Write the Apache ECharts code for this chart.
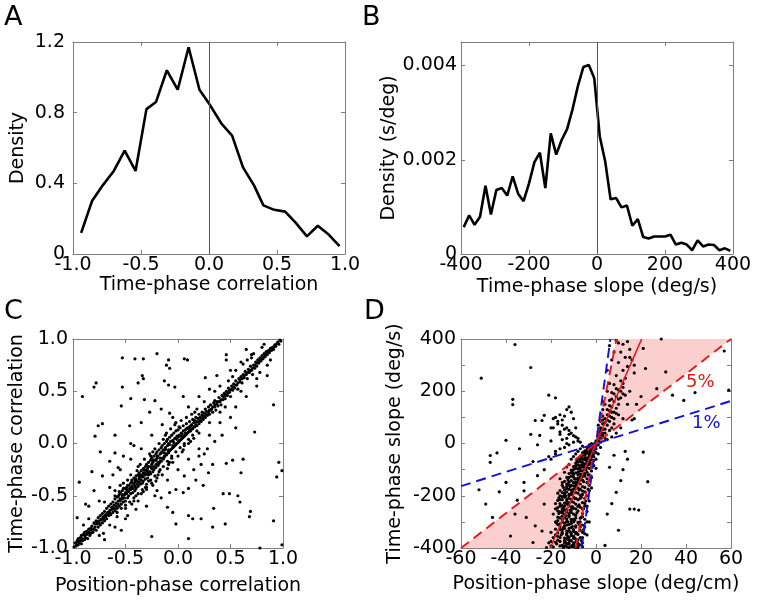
<!DOCTYPE html>
<html><head><meta charset="utf-8">
<script src="https://cdn.jsdelivr.net/npm/echarts@6/dist/echarts.min.js"></script>
<style>html,body{margin:0;padding:0;background:#fff}#c{width:757px;height:604px}</style>
</head><body><div id="c"></div>
<script>
// ---------- Panel A: time-phase correlation density ----------
const aX = [-0.94,-0.86,-0.78,-0.70,-0.62,-0.54,-0.46,-0.39,-0.31,-0.23,-0.15,-0.07,0.01,0.09,0.17,0.25,0.33,0.40,0.48,0.56,0.64,0.72,0.80,0.88,0.96];
const aY = [0.12,0.30,0.39,0.47,0.585,0.47,0.82,0.86,1.04,0.93,1.17,0.93,0.84,0.74,0.67,0.49,0.39,0.275,0.25,0.24,0.175,0.10,0.16,0.11,0.045];
const aXTicks = [-1,-0.5,0,0.5,1];
const aYTicks = [0,0.4,0.8,1.2];

// ---------- Panel B: time-phase slope density ----------
const bX = [-392,-376,-360,-344,-328,-312,-296,-280,-264,-248,-232,-216,-200,-184,-168,-152,-136,-120,-104,-88,-72,-56,-40,-24,-8,8,24,40,56,72,88,104,120,136,152,168,184,200,216,232,248,264,280,296,312,328,344,360,376,392];
const bY = [0.00057,0.00082,0.00062,0.00079,0.00145,0.00084,0.00136,0.00140,0.00124,0.00165,0.00128,0.00112,0.00150,0.00195,0.00215,0.00140,0.00256,0.00211,0.00242,0.00265,0.00307,0.00357,0.00397,0.00401,0.00373,0.00250,0.00197,0.00116,0.00119,0.00099,0.00103,0.00060,0.00074,0.00036,0.00033,0.00037,0.00037,0.00037,0.00041,0.00020,0.00024,0.00020,0.00008,0.00029,0.00016,0.00020,0.00019,0.00008,0.00012,0.00007];

// ---------- Panel C: position-phase vs time-phase correlation ----------
const cBand = [
[-0.99,-0.99],[-0.98,-0.95],[-0.97,-0.98],[-0.96,-0.93],[-0.95,-0.97],[-0.95,-0.91],[-0.94,-0.95],[-0.93,-0.90],[-0.92,-0.96],[-0.92,-0.88],[-0.91,-0.93],[-0.90,-0.87],[-0.89,-0.92],[-0.89,-0.85],[-0.88,-0.90],[-0.87,-0.84],[-0.86,-0.91],[-0.86,-0.86],[-0.85,-0.82],[-0.84,-0.88],[-0.83,-0.81],[-0.83,-0.86],[-0.82,-0.79],[-0.81,-0.85],[-0.80,-0.76],[-0.80,-0.82],[-0.79,-0.80],[-0.78,-0.74],[-0.78,-0.83],[-0.77,-0.77],[-0.76,-0.71],[-0.76,-0.80],[-0.75,-0.74],[-0.74,-0.69],[-0.74,-0.78],[-0.73,-0.72],[-0.72,-0.67],[-0.72,-0.76],[-0.71,-0.70],[-0.70,-0.65],[-0.70,-0.74],[-0.69,-0.68],[-0.68,-0.62],[-0.68,-0.72],[-0.67,-0.66],[-0.66,-0.60],[-0.66,-0.69],[-0.65,-0.64],[-0.64,-0.58],[-0.64,-0.68],[-0.63,-0.61],[-0.62,-0.56],[-0.62,-0.66],[-0.61,-0.59],[-0.60,-0.53],[-0.60,-0.64],[-0.59,-0.57],[-0.58,-0.51],[-0.58,-0.62],[-0.57,-0.55],[-0.56,-0.49],[-0.56,-0.60],[-0.55,-0.53],[-0.55,-0.47],[-0.54,-0.58],[-0.53,-0.51],[-0.53,-0.45],[-0.52,-0.56],[-0.51,-0.49],[-0.51,-0.43],[-0.50,-0.55],[-0.50,-0.47],[-0.49,-0.42],[-0.48,-0.52],[-0.48,-0.45],[-0.47,-0.40],[-0.47,-0.50],[-0.46,-0.43],[-0.45,-0.38],[-0.45,-0.48],[-0.44,-0.41],[-0.44,-0.35],[-0.43,-0.47],[-0.42,-0.39],[-0.42,-0.33],[-0.41,-0.45],[-0.41,-0.37],[-0.40,-0.31],[-0.40,-0.43],[-0.39,-0.36],[-0.38,-0.30],[-0.38,-0.41],[-0.37,-0.34],[-0.37,-0.28],[-0.36,-0.39],[-0.35,-0.32],[-0.35,-0.26],[-0.34,-0.38],[-0.34,-0.30],[-0.33,-0.24],[-0.33,-0.36],[-0.32,-0.28],[-0.31,-0.22],[-0.31,-0.34],[-0.30,-0.26],[-0.30,-0.20],[-0.29,-0.33],[-0.29,-0.24],[-0.28,-0.18],[-0.28,-0.30],[-0.27,-0.22],[-0.26,-0.16],[-0.26,-0.29],[-0.25,-0.20],[-0.25,-0.14],[-0.24,-0.27],[-0.24,-0.18],[-0.23,-0.12],[-0.23,-0.25],[-0.22,-0.16],[-0.21,-0.10],[-0.21,-0.23],[-0.20,-0.14],[-0.20,-0.08],[-0.19,-0.21],[-0.19,-0.12],[-0.18,-0.06],[-0.18,-0.19],[-0.17,-0.10],[-0.16,-0.04],[-0.16,-0.17],[-0.15,-0.08],[-0.15,-0.02],[-0.14,-0.15],[-0.14,-0.06],[-0.13,0.00],[-0.13,-0.13],[-0.12,-0.04],[-0.11,0.02],[-0.11,-0.11],[-0.10,-0.02],[-0.10,0.04],[-0.09,-0.09],[-0.09,0.00],[-0.08,0.06],[-0.08,-0.07],[-0.07,0.02],[-0.06,0.08],[-0.06,-0.05],[-0.05,0.03],[-0.04,0.10],[-0.04,-0.03],[-0.03,0.05],[-0.02,0.12],[-0.02,-0.01],[-0.01,0.07],[0.00,0.13],[0.00,0.01],[0.01,0.08],[0.02,0.15],[0.02,0.03],[0.03,0.10],[0.04,0.05],[0.05,0.12],[0.05,0.17],[0.06,0.07],[0.07,0.13],[0.08,0.19],[0.08,0.09],[0.09,0.15],[0.10,0.11],[0.11,0.21],[0.11,0.16],[0.12,0.12],[0.13,0.18],[0.14,0.23],[0.14,0.14],[0.15,0.20],[0.16,0.16],[0.17,0.25],[0.17,0.21],[0.18,0.17],[0.19,0.24],[0.20,0.28],[0.20,0.19],[0.21,0.25],[0.22,0.21],[0.23,0.30],[0.23,0.27],[0.24,0.23],[0.25,0.29],[0.26,0.33],[0.26,0.25],[0.27,0.31],[0.28,0.27],[0.29,0.35],[0.30,0.32],[0.30,0.28],[0.31,0.37],[0.32,0.33],[0.33,0.30],[0.34,0.39],[0.35,0.35],[0.35,0.41],[0.36,0.32],[0.37,0.40],[0.38,0.36],[0.39,0.44],[0.40,0.40],[0.41,0.37],[0.42,0.46],[0.43,0.42],[0.44,0.48],[0.45,0.43],[0.46,0.50],[0.47,0.46],[0.48,0.53],[0.49,0.49],[0.50,0.45],[0.51,0.55],[0.52,0.51],[0.53,0.57],[0.54,0.53],[0.55,0.60],[0.56,0.56],[0.57,0.52],[0.58,0.62],[0.59,0.59],[0.60,0.64],[0.61,0.58],[0.62,0.66],[0.63,0.63],[0.64,0.69],[0.65,0.66],[0.66,0.62],[0.67,0.71],[0.68,0.68],[0.69,0.74],[0.70,0.70],[0.71,0.66],[0.72,0.75],[0.73,0.72],[0.74,0.78],[0.75,0.74],[0.76,0.80],[0.77,0.77],[0.78,0.82],[0.79,0.79],[0.80,0.84],[0.81,0.81],[0.82,0.86],[0.83,0.83],[0.84,0.88],[0.85,0.85],[0.86,0.89],[0.87,0.87],[0.88,0.91],[0.89,0.89],[0.90,0.92],[0.91,0.90],[0.92,0.94],[0.93,0.93],[0.95,0.96],[0.96,0.95],[0.98,0.98],
[-0.55,-0.40],[-0.50,-0.62],[-0.45,-0.30],[-0.42,-0.55],[-0.38,-0.22],[-0.35,-0.48],[-0.32,-0.15],[-0.30,-0.44],[-0.27,-0.10],[-0.25,-0.38],[-0.22,-0.05],[-0.20,-0.33],[-0.18,0.00],[-0.15,-0.30],[-0.12,0.08],[-0.10,-0.24],[-0.07,0.14],[-0.05,-0.18],[-0.03,0.18],[0.00,-0.12],[0.03,0.22],[0.05,-0.06],[0.08,0.25],[0.10,0.00],[0.13,0.28],[0.15,0.05],[0.18,0.33],[0.20,0.10],[-0.60,-0.45],[-0.65,-0.78],[-0.70,-0.56],[-0.75,-0.88],[-0.48,-0.35],[-0.40,-0.50],[-0.28,-0.36],[-0.17,-0.25],[-0.06,-0.14],[0.06,-0.02],[0.25,0.40],[0.30,0.20],[0.40,0.55],[0.45,0.35],[0.55,0.70],[0.60,0.50],[0.70,0.82],[0.75,0.62],[0.80,0.92],[0.85,0.75],[0.62,0.76],[0.66,0.80],[0.72,0.86],[0.52,0.64],[0.48,0.60],[0.35,0.50],[-0.36,-0.20],[-0.33,-0.46],[-0.26,-0.12],[-0.21,-0.36],[-0.14,0.04],[-0.09,-0.20],[-0.02,0.20],[0.04,-0.08],[-0.58,-0.70],[-0.52,-0.38],[-0.44,-0.58],[-0.39,-0.26],[-0.31,-0.42],[-0.24,-0.08],[-0.19,-0.30],[-0.11,0.10],[-0.08,-0.18],[0.01,0.16],[0.12,0.02],[0.16,0.30]
];
const cMid = [
[-0.97,-0.96],[-0.95,-0.94],[-0.93,-0.93],[-0.91,-0.91],[-0.89,-0.88],[-0.87,-0.87],[-0.85,-0.85],[-0.83,-0.83],[-0.81,-0.82],[-0.79,-0.77],[-0.77,-0.75],[-0.75,-0.76],[-0.73,-0.73],[-0.71,-0.72],[-0.69,-0.70],[-0.67,-0.68],[-0.65,-0.66],[-0.63,-0.63],[-0.61,-0.62],[-0.59,-0.60],[-0.57,-0.58],[-0.55,-0.55],[-0.53,-0.53],[-0.51,-0.52],[-0.49,-0.48],[-0.47,-0.46],[-0.45,-0.44],[-0.43,-0.43],[-0.41,-0.41],[-0.39,-0.39],[-0.37,-0.37],[-0.35,-0.35],[-0.33,-0.32],[-0.31,-0.30],[-0.29,-0.29],[-0.27,-0.27],[-0.25,-0.24],[-0.23,-0.22],[-0.21,-0.20],[-0.19,-0.18],[-0.17,-0.17],[-0.15,-0.14],[-0.13,-0.12],[-0.11,-0.10],[-0.09,-0.08],[-0.07,-0.06],[-0.05,-0.04],[-0.03,-0.02],[-0.01,0.00],[0.01,0.02],[0.03,0.04],[0.05,0.06],[0.07,0.08],[0.09,0.10],[0.11,0.12],[0.13,0.14],[0.15,0.16],[0.17,0.18],[0.19,0.21],[0.21,0.22],[0.23,0.24],[0.25,0.26],[0.27,0.28],[0.29,0.30],[0.31,0.32],[0.33,0.35],[0.35,0.37],[0.37,0.38],[0.39,0.40],[0.41,0.42],[0.43,0.45],[0.45,0.46],[0.47,0.48],[0.49,0.51],[0.51,0.52],[0.53,0.54],[0.55,0.56],[0.57,0.58],[0.59,0.61],[0.61,0.62],[0.63,0.65],[0.65,0.67],[0.67,0.68],[0.69,0.70],[0.71,0.72],[0.73,0.75],[0.75,0.77],[0.77,0.79],[0.79,0.81],[0.81,0.83],[0.83,0.85],[0.85,0.87],[0.87,0.89],[0.89,0.91],[0.91,0.92],[0.93,0.95],[0.95,0.97],[0.97,0.99],
[-0.60,-0.50],[-0.58,-0.66],[-0.56,-0.46],[-0.54,-0.62],[-0.52,-0.43],[-0.50,-0.59],[-0.48,-0.40],[-0.46,-0.56],[-0.44,-0.37],[-0.42,-0.52],[-0.40,-0.34],[-0.38,-0.48],[-0.36,-0.30],[-0.34,-0.44],[-0.32,-0.25],[-0.30,-0.39],[-0.28,-0.22],[-0.26,-0.35],[-0.24,-0.16],[-0.22,-0.31],[-0.20,-0.12],[-0.18,-0.27],[-0.16,-0.09],[-0.14,-0.22],[-0.12,-0.06],[-0.10,-0.17],[-0.08,-0.01],[-0.06,-0.12],[-0.04,0.01],[-0.02,-0.08],[0.00,0.06],[0.02,-0.04],[0.04,0.09],[0.06,0.00],[0.08,0.14],[0.10,0.04],[0.12,0.17],[0.14,0.08],[0.16,0.22],[0.18,0.12],[-0.57,-0.51],[-0.53,-0.49],[-0.49,-0.44],[-0.45,-0.42],[-0.41,-0.35],[-0.37,-0.32],[-0.33,-0.28],[-0.29,-0.27],[-0.25,-0.23],[-0.21,-0.16],[-0.17,-0.14],[-0.13,-0.09],[-0.09,-0.06],[-0.05,-0.02],[-0.01,0.04],[0.03,0.07],[0.07,0.10],[0.11,0.14]
];
const cOut = [
[-0.20,0.86],[-0.53,0.82],[-0.41,0.81],[-0.33,0.81],[-0.09,0.80],[-0.11,0.75],[-0.08,0.72],[0.06,0.81],[0.09,0.80],[0.46,0.85],[0.46,0.80],[-0.78,0.58],[-0.80,0.54],[-0.91,0.45],[-0.34,0.65],[-0.33,0.62],[-0.38,0.58],[-0.13,0.60],[-0.09,0.56],[-0.03,0.54],[-0.53,0.54],[-0.45,0.43],[-0.32,0.42],[-0.22,0.41],[0.05,0.45],[0.26,0.63],[0.37,0.65],[-0.54,0.36],[-0.27,0.30],[-0.16,0.33],[-0.08,0.29],[-0.72,0.19],[-0.76,0.17],[-0.79,0.07],[-0.74,-0.08],[-0.60,0.08],[-0.46,0.17],[-0.35,0.20],[-0.45,0.00],[-0.60,-0.09],[-0.65,-0.17],[-0.82,-0.27],[-0.72,-0.31],[-0.94,-0.37],[-0.85,-0.60],[-0.96,-0.71],[-0.57,-0.23],
[0.91,0.37],[0.96,-0.18],[0.99,-0.26],[0.94,-0.32],[0.73,0.11],[0.62,-0.15],[0.60,-0.28],[0.52,-0.16],[0.46,-0.19],[0.33,-0.20],[0.22,-0.20],[0.17,-0.35],[0.24,-0.40],[0.29,-0.28],[0.06,-0.31],[0.10,-0.43],[-0.02,-0.44],[0.05,-0.47],[0.43,-0.48],[0.49,-0.48],[0.57,-0.50],[0.59,-0.56],[0.34,-0.62],[0.69,-0.65],[0.68,-0.70],[0.91,-0.74],[0.45,-0.77],[0.22,-0.72],[0.14,-0.72],[-0.02,-0.77],[0.10,-0.69],[-0.10,-0.61],[-0.05,-0.66],[-0.25,-0.89],[0.10,-0.91],[0.78,-1.00],[0.99,-0.97],[0.33,-0.80],[-0.22,-0.50],[-0.16,-0.52],[-0.08,-0.47],[-0.30,-0.42],[-0.24,-0.40],[-0.40,-0.63],[-0.48,-0.69],[-0.54,-0.83],[-0.71,-0.86],
[0.20,-0.12],[0.28,-0.05],[0.35,0.02],[0.42,0.08],[0.40,0.20],[0.50,0.25],[0.55,0.35],[0.65,0.45],[0.75,0.55],[0.85,0.65],[0.70,0.85],[0.60,0.78],[0.50,0.70],[0.30,0.52],[0.20,0.45],[0.10,0.35],[-0.05,0.25],[-0.15,0.18],[-0.25,0.08],[-0.35,-0.05],[-0.45,-0.15],[-0.55,-0.25],[-0.65,-0.42],[-0.75,-0.55],[-0.85,-0.72],[-0.30,-0.60],[-0.20,-0.45],[-0.10,-0.35],[0.00,-0.25],[0.10,-0.15],[0.20,-0.05],[0.30,0.08],[0.40,0.30],[-0.60,-0.80],[-0.70,-0.92],[-0.50,-0.72],[-0.38,-0.55],[0.15,-0.25],[0.25,-0.10],[-0.42,-0.02],[-0.62,-0.30],[-0.52,-0.12],[-0.80,-0.45],[-0.88,-0.58],[-0.90,-0.78],[0.55,0.15],[0.78,0.68],[0.88,0.80],[0.82,0.95],[0.65,0.90]
];

// ---------- Panel D: position-phase slope vs time-phase slope ----------
const dOut = [
[-51,250],[-36,379],[-29,291],[-37,169],[-37,149],[-40,12],[-47,-46],[-47,-72],[-44,-36],[-52,-177],[-49,-232],[-46,-283],[-40,-149],[-32,-149],[-27,88],[-25,31],[-28,-69],[-26,-123],[-32,-181],[-35,-217],[-36,-270],[-31,-283],[-27,-315],[-38,-354],[-24,-335],[-28,-379],[-23,-232],[-43,-185],[-21,185],[-18,175],[-13,130],[-15,90],[-17,75],[-19,95],[-20,60],[-16,110],[-14,105],[-12,140],[-11,120],[-16,45],[-13,60],[-10,95],[-18,-30],[-23,-100],[-26,-5],[-29,35],[-20,10],[-34,-20],[-20,-60],[-12,35],[-9,60],[-8,20],[-23,108],[-24,88],[-18,100],[-17,85],[-15,70],[-14,55],[-12,50],[-11,40],[-10,30],[-9,25],[-13,20],[-15,15],[-16,35],[-19,60],[-8,10],[-7,5],[-12,-5],[-14,-15],[-16,-20],[-18,-40],[-21,-50],[-13,0],[-10,5],
[22,287],[31,274],[27,210],[34,185],[39,165],[44,195],[57,354],[59,204],[29,400],[21,364],[21,-33],[23,-146],[15,-251],[17,-251],[19,-255],[10,-332],[11,-142],[6,-91],[9,-187],[17,95],[14,-60],[12,-100],[8,-45],[7,-230],[5,-270],[4,-390],[13,-30],[20,180],[17,270],[15,330],[14,150],[12,230]
];
const dUpper = [
[0,10],[1,20],[2,35],[1,45],[3,30],[2,60],[4,55],[3,75],[5,70],[4,95],[6,85],[5,110],[7,100],[6,125],[8,120],[3,105],[2,85],[7,140],[9,135],[8,160],[10,150],[6,165],[9,180],[11,175],[7,195],[10,205],[12,215],[8,225],[11,240],[13,250],[9,260],[12,280],[14,295],[10,310],[13,330],[11,350],[15,360],[12,380],[9,395],[14,390],[6,230],[5,200],[4,150],[3,130],[10,110],[12,95],[8,75],[6,50],[4,20],[2,5],[1,70],[3,160],[5,280],[7,320],[8,350],[6,375],[10,385],[16,320],[17,300],[18,150],[15,200],[13,185],[16,90],[11,60],[9,40],[7,25],[5,15],
[2,45],[3,55],[4,40],[5,90],[6,105],[7,60],[8,95],[9,115],[4,80],[5,130],[7,170],[8,190],[9,210],[10,170],[11,200],[12,190],[6,145],[7,120],[3,90],[1,30]
];
const dCore = [
[-1,-12],[-3,-20],[-2,-30],[-4,-15],[-5,-28],[-1,-38],[-3,-42],[-6,-35],[-2,-50],[-4,-55],[-7,-48],[-5,-62],[-3,-68],[-8,-58],[-6,-72],[-4,-80],[-9,-75],[-7,-85],[-5,-92],[-10,-88],[-3,-95],[-8,-98],[-6,-105],[-11,-102],[-4,-110],[-9,-112],[-7,-118],[-12,-115],[-5,-125],[-10,-128],[-8,-132],[-13,-130],[-6,-140],[-11,-142],[-9,-148],[-14,-145],[-4,-150],[-7,-155],[-12,-158],[-10,-162],[-15,-160],[-5,-168],[-8,-170],[-13,-172],[-11,-178],[-6,-182],[-16,-180],[-9,-188],[-14,-190],[-12,-195],[-7,-198],[-10,-205],[-15,-203],[-5,-210],[-13,-212],[-8,-215],[-17,-218],[-11,-222],[-6,-226],[-14,-228],[-9,-232],[-12,-238],[-16,-240],[-7,-244],[-10,-248],[-18,-250],[-13,-252],[-8,-258],[-15,-260],[-11,-264],[-6,-268],[-14,-270],[-9,-275],[-12,-280],[-17,-282],[-7,-286],[-10,-290],[-15,-292],[-13,-298],[-8,-302],[-11,-306],[-16,-308],[-6,-312],[-14,-316],[-9,-320],[-12,-325],[-18,-328],[-7,-332],[-10,-336],[-15,-340],[-13,-344],[-8,-348],[-11,-352],[-17,-355],[-6,-360],[-14,-362],[-9,-366],[-12,-370],[-16,-375],[-10,-380],[-13,-384],[-7,-388],[-15,-390],[-11,-394],[-19,-396],[-8,-398],
[-2.5,-25],[-4.5,-38],[-1.5,-45],[-3.5,-58],[-6.5,-52],[-2.5,-75],[-5.5,-82],[-8.5,-66],[-4.5,-100],[-7.5,-92],[-10.5,-110],[-3.5,-120],[-6.5,-128],[-9.5,-136],[-12.5,-140],[-5.5,-146],[-8.5,-152],[-11.5,-165],[-14.5,-168],[-3.5,-175],[-7.5,-178],[-10.5,-185],[-13.5,-200],[-6.5,-205],[-9.5,-210],[-16.5,-208],[-4.5,-220],[-12.5,-225],[-7.5,-235],[-10.5,-242],[-14.5,-246],[-5.5,-250],[-11.5,-256],[-8.5,-265],[-16.5,-268],[-13.5,-276],[-6.5,-282],[-9.5,-294],[-12.5,-300],[-17.5,-304],[-7.5,-310],[-10.5,-318],[-14.5,-322],[-5.5,-330],[-11.5,-338],[-8.5,-344],[-15.5,-350],[-12.5,-356],[-9.5,-362],[-6.5,-372],[-13.5,-378],[-17.5,-384],[-10.5,-390],[-8.5,-376],[-14.5,-398],[-20,-392],[-21,-380],[-19,-360],[-20,-340],[-18,-300],[-19,-270],[-17,-245],[-18,-230],[-16,-200],[-17,-190],[-15,-150],[-16,-135],[-14,-110],[-13,-90],[-12,-80],[-11,-60],[-10,-50],[-9,-40],[-8,-30],[-7,-20],[-6,-10],
[-2,-8],[-3,-5],[-1,-25],[-2,-18],[-4,-35],[-3,-48],[-5,-45],[-4,-65],[-6,-60],[-5,-78],[-7,-70],[-6,-90],[-8,-82],[-7,-105],[-9,-95],[-8,-120],[-10,-118],[-9,-135],[-11,-125],[-10,-150],[-12,-148],[-11,-160],[-13,-155],[-12,-175],[-14,-178],[-13,-185],[-15,-188],[-11,-195],[-14,-205],[-12,-210],[-16,-215],[-13,-232],[-15,-238],[-11,-245],[-14,-255],[-16,-262],[-12,-268],[-15,-278],[-13,-288],[-17,-295],[-11,-298],[-14,-305],[-16,-318],[-12,-335],[-15,-330],[-17,-342],[-13,-350],[-16,-360],[-14,-372],[-12,-385],[-18,-378],[-16,-392],[-9,-345],[-10,-362],[-8,-382],[-7,-360],[-6,-340],[-7,-300],[-5,-290],[-6,-250],[-5,-230],[-4,-200],[-5,-185],[-3,-160],[-4,-135],[-2,-130],[-3,-140],[-2,-105],[-1,-85],[0,-60],[1,-40],[0,-20],[1,-5],[2,-15],[-1,-65],[0,-95],[-2,-170],[-3,-220],[-4,-260],[-5,-320],[-4,-350],[-6,-395],[-3,-300],
[-9,-210],[-11,-215],[-10,-225],[-12,-230],[-8,-240],[-9,-250],[-11,-255],[-10,-270],[-12,-275],[-9,-285],[-11,-290],[-10,-300],[-12,-310],[-9,-315],[-11,-322],[-10,-330],[-13,-335],[-9,-340],[-11,-345],[-10,-355],[-12,-360],[-8,-368],[-11,-372],[-9,-378],[-12,-380],[-10,-388],[-13,-395],[-8,-392],[-7,-210],[-8,-190],[-9,-170],[-8,-150],[-7,-140],[-6,-125],[-8,-110],[-7,-95],[-5,-100],[-6,-80],[-4,-70],[-5,-55],[-3,-35],[-2,-40],[-1,-20],[0,-10],[-1,-2],[0,5],[1,12],[2,22],[1,30],[2,50],[3,40],[0,-35],[-1,-50],[-2,-62],[-3,-80],[-4,-90],[-5,-115],[-6,-118],[-7,-130],[-8,-140],[-9,-160],[-10,-175],[-11,-190],[-12,-200],[-13,-220],[-14,-240],[-15,-250],[-13,-262],[-14,-285],[-15,-300],[-13,-312],[-14,-325],[-15,-345],[-13,-365],[-14,-380],[-17,-370],[-18,-350],[-16,-330],[-17,-310],[-16,-285],[-15,-265],[-17,-258],[-16,-230],[-15,-215],[-14,-198],[-13,-165],[-12,-130],[-11,-112],[-10,-100],[-9,-85],[-8,-70],[-7,-62],[-6,-45],[-5,-35],[-4,-25],[-3,-12],[-2,0],[-6,-165],[-7,-175],[-6,-195],[-5,-240],[-6,-280],[-7,-320],[-5,-345],[-6,-380],[-4,-300],[-4,-240],[-3,-180],[-3,-120],[-2,-90],[-9,-398],[-12,-398],[-10,-395],[-14,-392],[-20,-375],[-22,-398]
];
// reference lines (endpoints) and shaded 5% wedge
const dRed5Shallow = [[-60,-400],[60,400]];
const dRed5Steep = [[-9.1,-400],[9.1,400]];
const dRedFit = [[-20.3,-400],[20.3,400]];
const dBlue1Shallow = [[-60,-163],[60,163]];
const dBlue1Steep = [[-6.4,-400],[6.4,400]];
const pinkUpper = [[0,0],[9.1,400],[60,400]];
const pinkLower = [[0,0],[-9.1,-400],[-60,-400]];

// ---------- styling / layout ----------
const FONT = 'DejaVu Sans';
const FRAME = '#7f7f7f';
const FS = 19;
const grids = [
  {left:73, top:42, width:272, height:212},
  {left:461, top:42, width:272, height:212},
  {left:73, top:339, width:210, height:209},
  {left:461, top:339, width:270, height:209}
].map(g => Object.assign({outerBoundsMode:'none', containLabel:false}, g));

function axBase(grid, min, max, interval) {
  return {type:'value', gridIndex:grid, min:min, max:max, interval:interval,
    axisLine:{show:true, onZero:false, lineStyle:{color:FRAME, width:1}},
    axisTick:{show:true, inside:true, length:4, lineStyle:{color:FRAME, width:1}},
    splitLine:{show:false}};
}
function xPair(grid, min, max, interval, fmt, name, nameGap, margin) {
  return [
    Object.assign(axBase(grid,min,max,interval), {position:'bottom',
      axisLabel:{show:true, formatter:fmt, fontSize:FS, color:'#000', fontFamily:FONT, margin:margin},
      name:name, nameLocation:'middle', nameGap:nameGap,
      nameTextStyle:{fontSize:FS, color:'#000', fontFamily:FONT}}),
    Object.assign(axBase(grid,min,max,interval), {position:'top', axisLabel:{show:false}})
  ];
}
function yPair(grid, min, max, interval, fmt, name, nameGap, margin, extra) {
  return [
    Object.assign(axBase(grid,min,max,interval), {position:'left',
      axisLabel:Object.assign({show:true, formatter:fmt, fontSize:FS, color:'#000', fontFamily:FONT, margin:margin}, extra||{}),
      name:name, nameLocation:'middle', nameGap:nameGap,
      nameTextStyle:{fontSize:FS, color:'#000', fontFamily:FONT}}),
    Object.assign(axBase(grid,min,max,interval), {position:'right', axisLabel:{show:false}})
  ];
}
const f1 = v => v.toFixed(1);
const fA = v => v === 0 ? '0' : v.toFixed(1);
const fB = v => { const k = v / 0.002; if (Math.abs(k - Math.round(k)) > 1e-6) return ''; return v === 0 ? '0' : v.toFixed(3); };
const fInt = v => String(Math.round(v));
const fD = v => (Math.round(v) % 200 === 0) ? String(Math.round(v)) : '';

const xAxes = [].concat(
  xPair(0, aXTicks[0], aXTicks[aXTicks.length-1], 0.5, f1, 'Time-phase correlation', 17, 2),
  xPair(1, -400, 400, 200, fInt, 'Time-phase slope (deg/s)', 24, 2),
  xPair(2, -1, 1, 0.5, f1, 'Position-phase correlation', 29, 2),
  xPair(3, -60, 60, 20, fInt, 'Position-phase slope (deg/cm)', 27, 2)
);
const yAxes = [].concat(
  yPair(0, aYTicks[0], aYTicks[aYTicks.length-1], 0.4, fA, 'Density', 45, 8),
  yPair(1, 0, 0.0045, 0.002, fB, 'Density (s/deg)', 58, 4, {showMaxLabel:false}),
  yPair(2, -1, 1, 0.5, f1, 'Time-phase correlation', 44, 5),
  yPair(3, -400, 400, 100, fD, 'Time-phase slope (deg/s)', 56, 5)
);

const zeroLine = {symbol:'none', silent:true, animation:false, label:{show:false},
  lineStyle:{color:'#555', width:1, type:'solid'}, data:[{xAxis:0}]};

function lineSeries(data, color, dashed, width) {
  return {type:'line', xAxisIndex:6, yAxisIndex:6, data:data, symbol:'none', silent:true, z:5,
    lineStyle:{color:color, width:width, type: dashed ? [10,6] : 'solid'}};
}
const dotStyle = {color:'#000', opacity:1};

const option = {
  animation:false,
  backgroundColor:'#fff',
  textStyle:{fontFamily:FONT},
  grid:grids,
  xAxis:xAxes,
  yAxis:yAxes,
  series:[
    {type:'line', xAxisIndex:0, yAxisIndex:0, data:aX.map((x,i)=>[x,aY[i]]), symbol:'none',
      lineStyle:{color:'#000', width:2.6}, markLine:zeroLine},
    {type:'line', xAxisIndex:2, yAxisIndex:2, data:bX.map((x,i)=>[x,bY[i]]), symbol:'none',
      lineStyle:{color:'#000', width:2.6}, markLine:zeroLine},
    {type:'scatter', xAxisIndex:4, yAxisIndex:4, data:cBand.concat(cMid, cOut), symbolSize:3.2,
      itemStyle:dotStyle, silent:true, large:false},
    {type:'custom', xAxisIndex:6, yAxisIndex:6, coordinateSystem:'cartesian2d', data:[[0,0]],
      encode:{x:0, y:1}, silent:true, z:1, clip:true,
      renderItem:function(params, api){
        return {type:'group', children:[pinkUpper, pinkLower].map(poly => ({
          type:'polygon', shape:{points:poly.map(p => api.coord(p))}, style:{fill:'#fccfcf'}}))};
      }},
    {type:'scatter', xAxisIndex:6, yAxisIndex:6, data:dOut.concat(dUpper, dCore), symbolSize:3.2,
      itemStyle:dotStyle, silent:true, z:3, large:false},
    lineSeries(dRed5Shallow, '#e8161b', true, 1.9),
    lineSeries(dRed5Steep, '#e8161b', true, 1.9),
    lineSeries(dBlue1Shallow, '#1010d8', true, 1.9),
    lineSeries(dBlue1Steep, '#1010d8', true, 1.9),
    lineSeries(dRedFit, '#e8161b', false, 1.6)
  ],
  graphic:[
    {type:'text', left:4, top:4, style:{text:'A', font:'27px "DejaVu Sans"', fill:'#000'}},
    {type:'text', left:362, top:4, style:{text:'B', font:'27px "DejaVu Sans"', fill:'#000'}},
    {type:'text', left:4, top:298, style:{text:'C', font:'27px "DejaVu Sans"', fill:'#000'}},
    {type:'text', left:364, top:298, style:{text:'D', font:'27px "DejaVu Sans"', fill:'#000'}},
    {type:'text', left:686, top:373, z:10, style:{text:'5%', font:'18px "DejaVu Sans"', fill:'#e01818'}},
    {type:'text', left:692, top:414, z:10, style:{text:'1%', font:'18px "DejaVu Sans"', fill:'#1212d0'}}
  ]
};
const chart = echarts.init(document.getElementById('c'), null, {renderer:'canvas'});
chart.setOption(option);
</script>
</body></html>
